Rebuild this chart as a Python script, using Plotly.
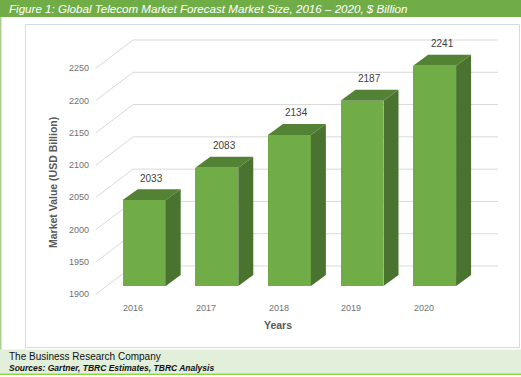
import plotly.graph_objects as go

# ---- data ----
years = ["2016", "2017", "2018", "2019", "2020"]
values = [2033, 2083, 2134, 2187, 2241]
y_ticks = [1900, 1950, 2000, 2050, 2100, 2150, 2200, 2250]
y_tick_labels = [str(t) for t in y_ticks]

title_text = "Figure 1: Global Telecom Market Forecast Market Size, 2016 \u2013 2020, $ Billion"
footer1 = "The Business Research Company"
footer2 = "Sources: Gartner, TBRC Estimates, TBRC Analysis"

# ---- 3D look parameters (in data units) ----
W, H = 521, 377
base = 1900
half_w = 0.296            # half bar width (category units)
bar_dx, bar_dy = 0.2066, 17.0      # bar depth offset
front_dx, front_dy = -0.150, -12.85  # wall front plane offset
back_dx, back_dy = 0.364, 30.97      # wall back plane offset
wall_left, wall_right = -0.517, len(years) - 1 + 0.508

x_range = [-1.986, 5.190]
y_range = [1759.1, 2342.9]

FRONT = "#70AD47"
TOP = "#548235"
SIDE = "#4A7330"
GRID = "#D9D9D9"

fig = go.Figure()
shapes = []

# gridlines: back wall horizontals + left wall diagonals
for t in y_ticks:
    shapes.append(dict(type="line", xref="x", yref="y", layer="below",
                       x0=wall_left + back_dx, x1=wall_right + back_dx,
                       y0=t + back_dy, y1=t + back_dy,
                       line=dict(color=GRID, width=1)))
    shapes.append(dict(type="line", xref="x", yref="y", layer="below",
                       x0=wall_left + front_dx, x1=wall_left + back_dx,
                       y0=t + front_dy, y1=t + back_dy,
                       line=dict(color=GRID, width=1)))

xs = list(range(len(years)))

# front faces
fig.add_trace(go.Bar(x=xs, y=[v - base for v in values], base=base,
                     width=2 * half_w, marker=dict(color=FRONT, line=dict(width=0)),
                     hoverinfo="skip"))

# side and top faces
for i, v in zip(xs, values):
    xr = i + half_w
    xl = i - half_w
    fig.add_trace(go.Scatter(
        x=[xr, xr + bar_dx, xr + bar_dx, xr, xr],
        y=[base, base + bar_dy, v + bar_dy, v, base],
        fill="toself", fillcolor=SIDE, mode="lines",
        line=dict(width=0, color=SIDE), hoverinfo="skip"))
    fig.add_trace(go.Scatter(
        x=[xl, xr, xr + bar_dx, xl + bar_dx, xl],
        y=[v, v, v + bar_dy, v + bar_dy, v],
        fill="toself", fillcolor=TOP, mode="lines",
        line=dict(width=0, color=TOP), hoverinfo="skip"))

annotations = []
FONT = "Liberation Sans"
# value labels
for i, v in zip(xs, values):
    annotations.append(dict(x=i + bar_dx / 2, y=v + bar_dy, xref="x", yref="y",
                            text=str(v), showarrow=False, yshift=11,
                            xanchor="center", yanchor="middle",
                            font=dict(family=FONT, size=10, color="#404040")))
# y tick labels
for t, lab in zip(y_ticks, y_tick_labels):
    annotations.append(dict(x=wall_left + front_dx, y=t + front_dy, xref="x", yref="y",
                            text=lab, showarrow=False, xanchor="right", yanchor="middle",
                            xshift=-5,
                            font=dict(family=FONT, size=9, color="#707070")))
# category labels
for i, yr in zip(xs, years):
    annotations.append(dict(x=i + front_dx, y=base + front_dy, xref="x", yref="y",
                            text=yr, showarrow=False, yshift=-14,
                            xanchor="center", yanchor="middle",
                            font=dict(family=FONT, size=9, color="#707070")))

def px(x):
    return x / W

def py(y):
    return 1 - y / H

# axis titles
annotations.append(dict(x=px(278), y=py(325), xref="paper", yref="paper",
                        text="<b>Years</b>", showarrow=False,
                        xanchor="center", yanchor="middle",
                        font=dict(family=FONT, size=10.5, color="#595959")))
annotations.append(dict(x=px(53), y=py(183), xref="paper", yref="paper",
                        text="<b>Market Value (USD Billion)</b>", showarrow=False,
                        textangle=-90, xanchor="center", yanchor="middle",
                        font=dict(family=FONT, size=10.5, color="#595959")))
# title
annotations.append(dict(x=px(7), y=py(8.5), xref="paper", yref="paper",
                        text="<i>" + title_text + "</i>", showarrow=False,
                        xanchor="left", yanchor="middle",
                        font=dict(family=FONT, size=11.6, color="white")))
# footer
annotations.append(dict(x=px(7), y=py(356), xref="paper", yref="paper",
                        text=footer1, showarrow=False, xanchor="left", yanchor="middle",
                        font=dict(family=FONT, size=10, color="#111111")))
annotations.append(dict(x=px(7), y=py(368), xref="paper", yref="paper",
                        text="<b><i>" + footer2 + "</i></b>", showarrow=False,
                        xanchor="left", yanchor="middle",
                        font=dict(family=FONT, size=8.5, color="#111111")))

# frame decorations (paper)
shapes += [
    dict(type="rect", xref="paper", yref="paper", layer="below",
         x0=0, x1=1, y0=py(17), y1=1, fillcolor="#70AD47", line=dict(width=0)),
    dict(type="rect", xref="paper", yref="paper", layer="below",
         x0=0, x1=px(1.5), y0=py(350), y1=py(17), fillcolor="#A9D08E", line=dict(width=0)),
    dict(type="rect", xref="paper", yref="paper", layer="below",
         x0=px(25.5), x1=px(519.5), y0=py(347.5), y1=py(24.5),
         fillcolor="rgba(0,0,0,0)", line=dict(color=GRID, width=1)),
    dict(type="rect", xref="paper", yref="paper", layer="below",
         x0=0, x1=1, y0=py(373.5), y1=py(349.5), fillcolor="#E2EFDA", line=dict(width=0)),
    dict(type="rect", xref="paper", yref="paper", layer="below",
         x0=0, x1=1, y0=py(375), y1=py(373.5), fillcolor="#92D050", line=dict(width=0)),
]

fig.update_layout(
    width=W, height=H, margin=dict(l=0, r=0, t=0, b=0),
    paper_bgcolor="white", plot_bgcolor="rgba(0,0,0,0)",
    showlegend=False,
    xaxis=dict(range=x_range, visible=False, fixedrange=True),
    yaxis=dict(range=y_range, visible=False, fixedrange=True),
    shapes=shapes, annotations=annotations,
    bargap=0,
)

fig.write_html("out.html", config={"displayModeBar": False},
               post_script="document.body.style.margin='0px';document.body.style.overflow='hidden';")
